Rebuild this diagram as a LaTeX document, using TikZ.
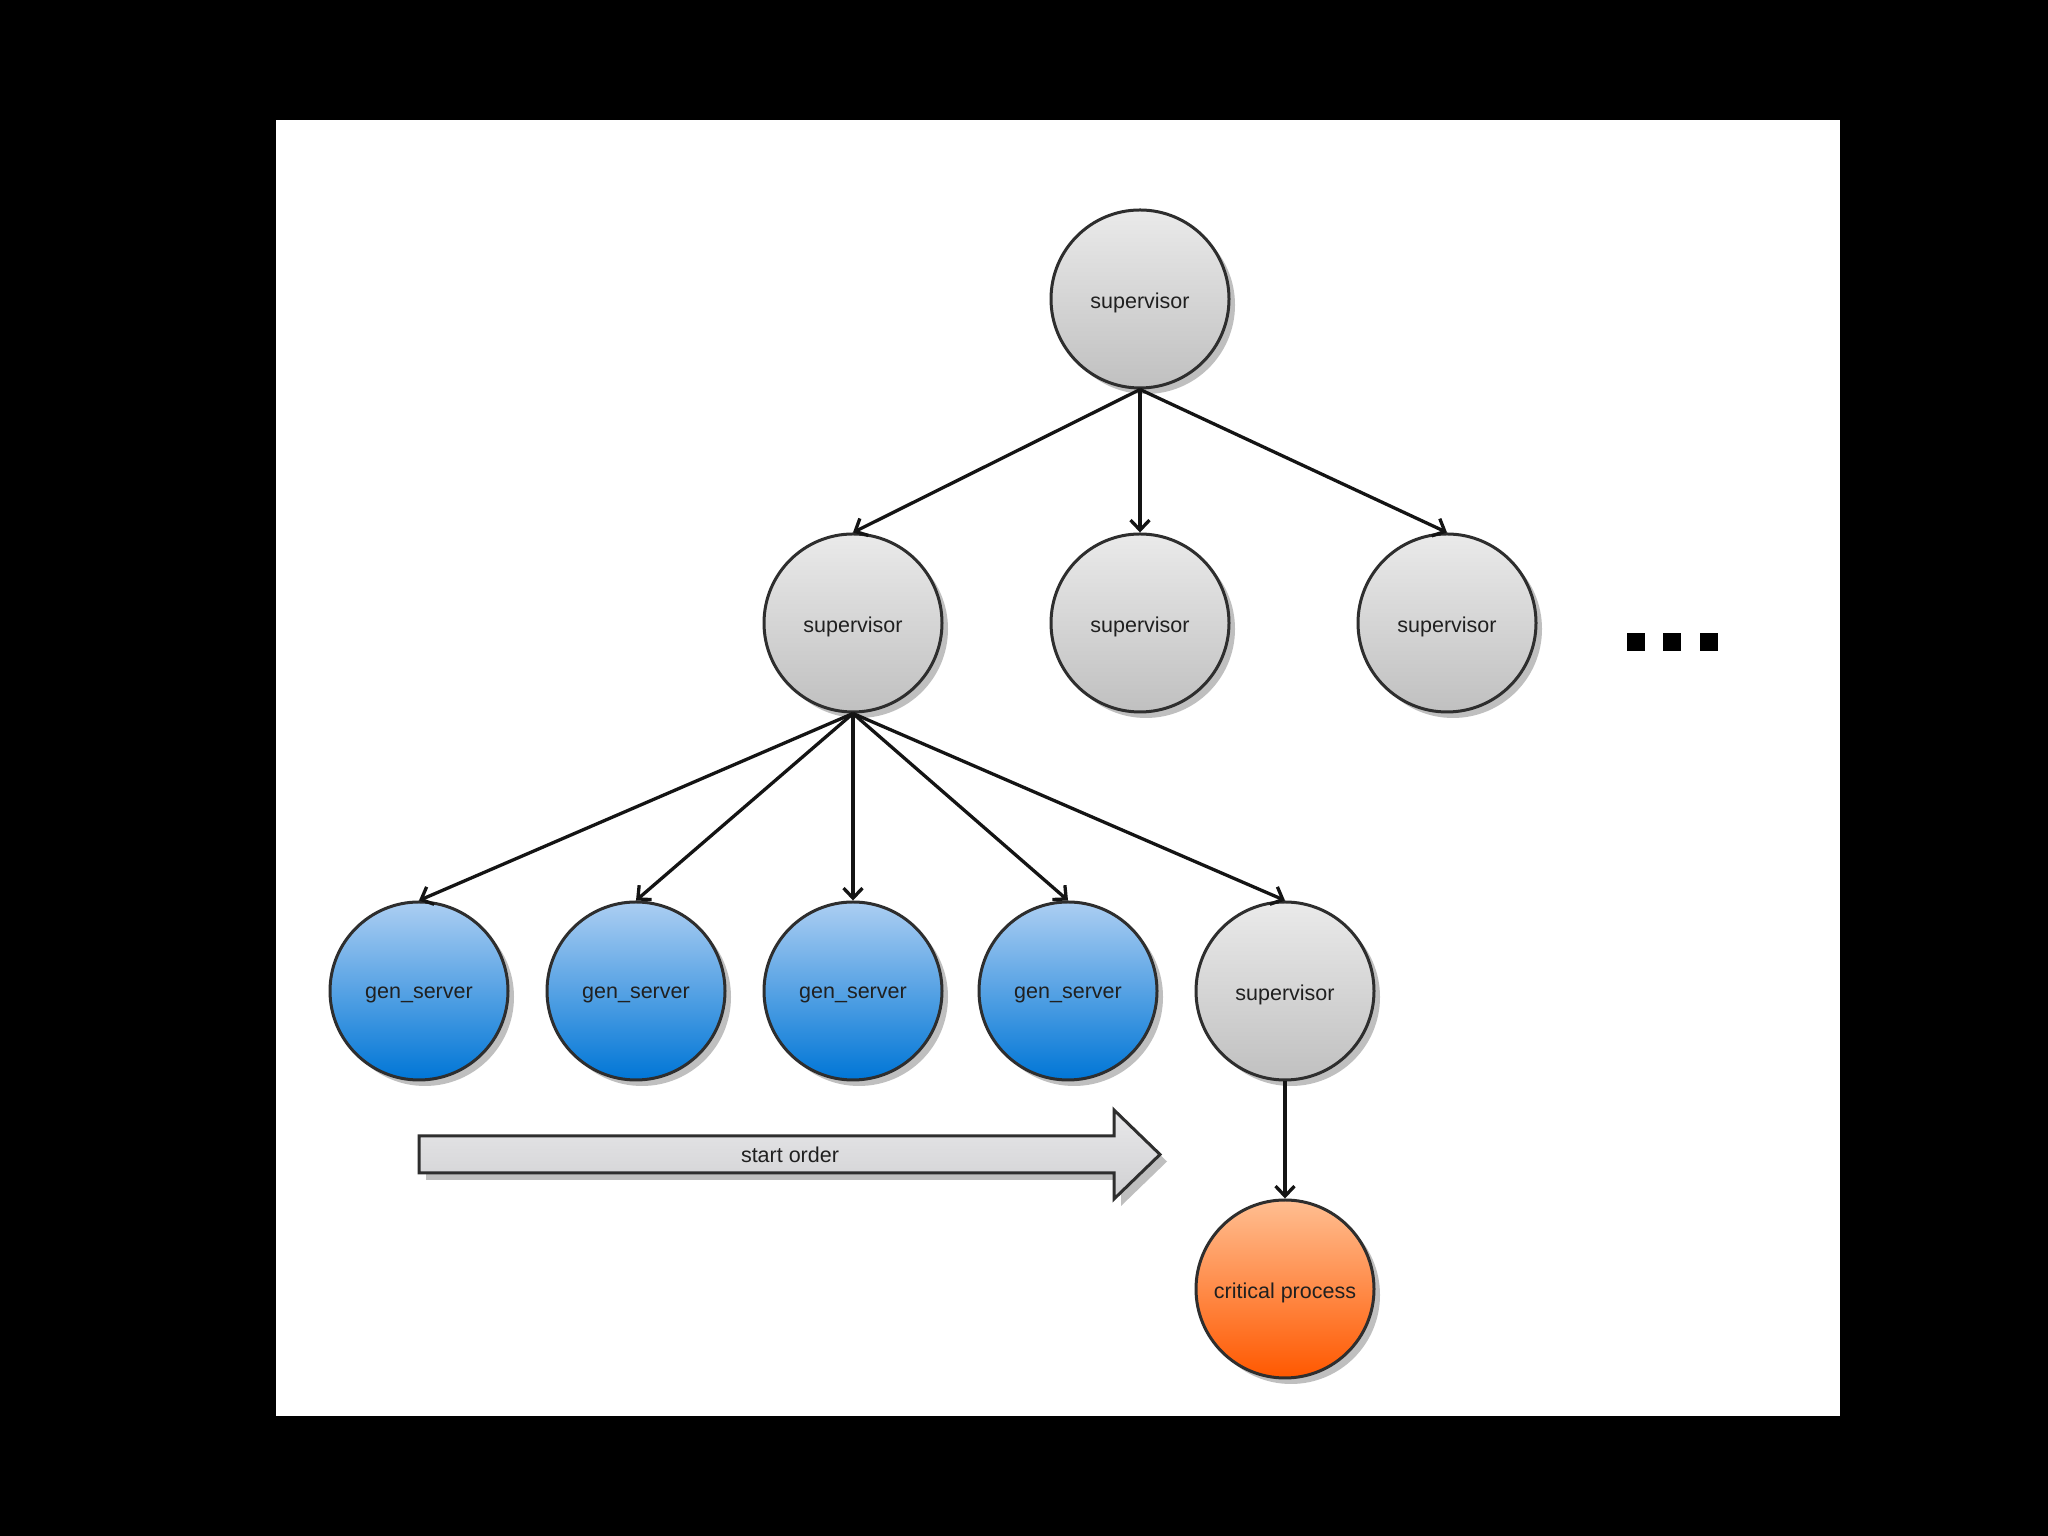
\documentclass[tikz,border=0pt]{standalone}
\usepackage{fontspec}
\setmainfont{Liberation Sans}
\usetikzlibrary{shadows,arrows.meta}
\definecolor{grayTop}{RGB}{234,234,234}
\definecolor{grayBot}{RGB}{192,192,192}
\definecolor{blueTop}{RGB}{172,206,242}
\definecolor{blueBot}{RGB}{0,118,214}
\definecolor{orTop}{RGB}{255,190,145}
\definecolor{orBot}{RGB}{255,88,0}
\definecolor{arrTop}{RGB}{232,232,234}
\definecolor{arrBot}{RGB}{208,208,210}
\definecolor{txt}{RGB}{32,32,32}
\begin{document}
\begin{tikzpicture}[x=1pt,y=1pt,
  proc/.style={circle, minimum size=178pt, inner sep=0pt, draw=black!82, line width=3pt,
    font=\fontsize{21.5}{26}\selectfont, text=txt, text depth=0pt, yshift=0pt,
    drop shadow={shadow xshift=6pt, shadow yshift=-6pt, fill=black!45, opacity=0.55}},
  sup/.style={proc, top color=grayTop, bottom color=grayBot},
  gen/.style={proc, top color=blueTop, bottom color=blueBot},
  crit/.style={proc, top color=orTop, bottom color=orBot},
  link/.style={line width=3.3pt, draw=black!92, -{Straight Barb[length=10pt,width=19pt,line width=3.3pt]}},
  dotbox/.style={rectangle, fill=black, minimum size=18pt, inner sep=0pt},
  lbl/.style={font=\fontsize{21.5}{26}\selectfont, text=txt}
]
\useasboundingbox (0,0) rectangle (2048,1536);
\fill[black] (0,0) rectangle (2048,1536);
\fill[white] (276,120) rectangle (1840,1416);

% nodes
\node[sup] (root) at (1140,1237) {\raisebox{-4pt}{supervisor}};
\node[sup] (s1) at (853,913) {\raisebox{-4pt}{supervisor}};
\node[sup] (s2) at (1140,913) {\raisebox{-4pt}{supervisor}};
\node[sup] (s3) at (1447,913) {\raisebox{-4pt}{supervisor}};

\node[dotbox] (d1) at (1636,894) {};
\node[dotbox] (d2) at (1672,894) {};
\node[dotbox] (d3) at (1709,894) {};

\node[gen] (g1) at (419,545) {\raisebox{-4pt}{gen\_server}};
\node[gen] (g2) at (636,545) {\raisebox{-4pt}{gen\_server}};
\node[gen] (g3) at (853,545) {\raisebox{-4pt}{gen\_server}};
\node[gen] (g4) at (1068,545) {\raisebox{-4pt}{gen\_server}};
\node[sup] (s4) at (1285,545) {\raisebox{-4pt}{supervisor}};
\node[crit] (cp) at (1285,247) {\raisebox{-4pt}{critical process}};

% connectors
\draw[link] (root.south) -- (s1.north);
\draw[link] (root.south) -- (s2.north);
\draw[link] (root.south) -- (s3.north);
\draw[link] (s1.south) -- (g1.north);
\draw[link] (s1.south) -- (g2.north);
\draw[link] (s1.south) -- (g3.north);
\draw[link] (s1.south) -- (g4.north);
\draw[link] (s1.south) -- (s4.north);
\draw[link] (s4.south) -- (cp.north);

% start order arrow
\path[draw=black!82, line width=3pt, line join=miter, top color=arrTop, bottom color=arrBot,
  drop shadow={shadow xshift=7pt, shadow yshift=-7pt, fill=black!45, opacity=0.55}]
  (419,400) -- (1114,400) -- (1114,426) -- (1160,381.5) -- (1114,337) -- (1114,363) -- (419,363) -- cycle;
\node[lbl] (startorder) at (790,381.5) {start order};
\end{tikzpicture}
\end{document}
